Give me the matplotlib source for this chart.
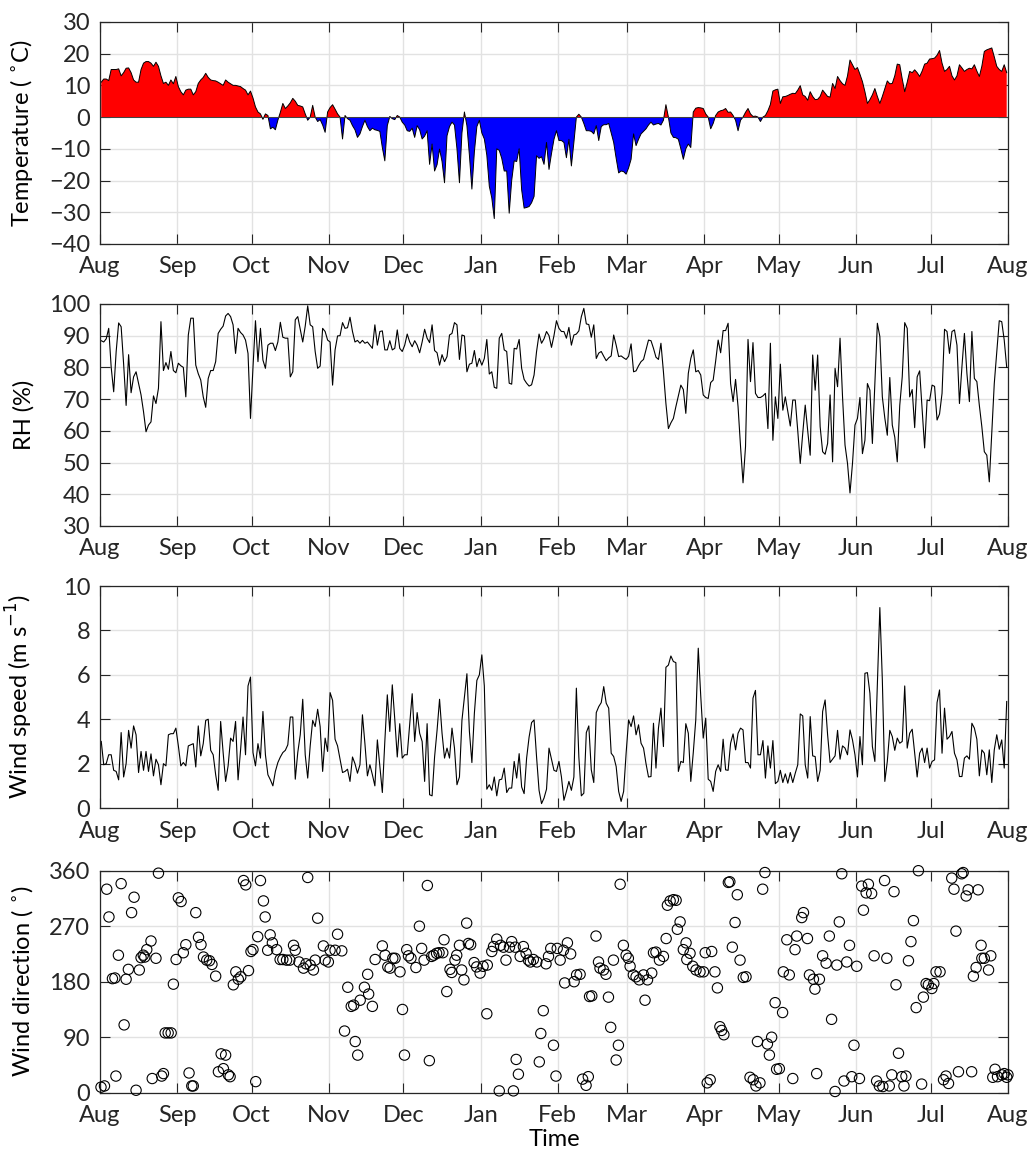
import numpy as np
import matplotlib
matplotlib.use("Agg")
import matplotlib.pyplot as plt

plt.rcParams['font.family'] = ['Lato', 'DejaVu Sans']
plt.rcParams['font.size'] = 17

# 月の区切り (8月1日からの日数)
month_ticks = [0, 31, 61, 92, 122, 153, 184, 212, 243, 273, 304, 334, 365]
month_labels = ['Aug', 'Sep', 'Oct', 'Nov', 'Dec', 'Jan', 'Feb', 'Mar', 'Apr', 'May', 'Jun', 'Jul', 'Aug']

# 日平均気温 (8月〜7月)
temp = (
    [11, 12, 12, 11.5, 15, 15, 15, 15.2, 13, 14, 15.4, 15.5, 14, 11.7, 11, 11, 15, 17, 17.5, 17.5, 17, 16, 17.3, 16, 13, 10.6, 11, 10, 11.7, 10.5, 12.8]
    + [9.6, 8, 7, 8.5, 8.8, 8.8, 7, 8, 10.6, 11.7, 12.5, 13.8, 12.5, 11.7, 11.5, 11.4, 11, 10.5, 10, 11.7, 11, 10.5, 10, 10, 9.8, 9.6, 9, 8.5, 7, 8.2]
    + [6, 3.2, 1.6, 1, -0.7, 1, 0.5, -3.7, -3.2, -4, -1, 1.5, 4.3, 2.7, 3.5, 4.5, 5.9, 5, 3.7, 3.5, 3.2, 1, -1, 0, 3.7, 0, -1.4, -0.8, -2.5, -4.8, 1.6]
    + [3, 3.9, 2.5, 1, 0, -6.9, 0.5, -0.5, -1, -2.7, -4, -6.4, -5.3, -3, -1, -3, -4.3, -3.5, -4, -4.2, -4.5, -9.6, -13.8, -2.7, 0.2, -0.5, -0.8, 0.5, 0, -1.6]
    + [-2.5, -4.3, -4.5, -3.5, -6.4, -2.7, -4, -6.9, -6, -4.3, -14.9, -8.5, -17, -15, -10.1, -14, -20.7, -5.9, -3, -1.6, -2.5, -10, -20.7, -5, 1.6, -2.7, -12, -22.7, -11, -3, -1]
    + [-5, -6.9, -12, -21.8, -25.5, -32, -10, -10.5, -13, -17, -17, -30.3, -20, -13.8, -14, -10, -22.9, -28.7, -28.5, -28.2, -27, -25, -12.2, -13, -12.5, -14.9, -8, -16.5, -11.5, -7, -4.3]
    + [-7.4, -7.4, -8, -12.8, -7, -15.4, -8, 0, 0.9, 0, -2, -4.3, -4.3, -4.5, -5.3, -2.7, -7.4, -3, -2.4, -2.4, -2, -5, -8, -13, -17.6, -17, -17.2, -18]
    + [-16, -13.3, -5.3, -9, -7, -5.3, -4.5, -3.7, -2.5, -1.6, -2.5, -2.2, -2, -2.5, -1, 3.9, 0, -5, -6.4, -6.5, -7, -10, -13.3, -10, -8.5, -9.6, 1.6, 2.8, 3, 2.9, 2.7]
    + [1, 0, -3.7, -2, 0.5, 1.6, 2, 2.2, 2.7, 1.5, 1.6, 0.5, -1, -4.3, -1, 0, 1.5, 2.7, 1, 0.2, 0.3, 0, -1.4, 0, 0.5, 2, 4, 8.2, 8.6, 8.8]
    + [4.3, 6.4, 6.5, 6.8, 7.2, 7.5, 7.4, 8.5, 9.9, 7, 6.5, 5.3, 8, 6.5, 5.5, 5.6, 6.5, 8.5, 7.5, 6.5, 6.3, 10.6, 9, 12.8, 11.5, 10.5, 10, 13, 18, 16.5, 15]
    + [15.6, 13.5, 11.2, 8, 4.3, 5.5, 7, 9, 6.5, 4.3, 6.5, 9, 11.4, 10.5, 10.6, 13, 16.7, 16.5, 12, 8, 11, 14.4, 14, 14.9, 14, 12.8, 14.5, 16.7, 17, 18.3]
    + [18.4, 18.6, 19.5, 21, 17, 14.4, 15, 16, 13, 11.7, 13, 16.5, 15.5, 14.4, 15, 15.4, 15.2, 16.5, 14.5, 12.8, 16, 20.7, 21.2, 21.5, 21.8, 19, 16, 15, 14.4, 16.5, 14]
)

# 相対湿度 (%)
rh = (
    [88.4, 88, 89, 92.3, 80, 72.3, 85, 94, 92.8, 81, 68, 84, 72, 77, 78.6, 75, 71.3, 66, 59.7, 61.8, 62.8, 71, 68.6, 73.4, 94.4, 79, 81.5, 79.4, 85, 79, 78.3]
    + [81.3, 80.5, 80, 70.7, 90.2, 95.5, 95.5, 80.7, 78, 76, 70.7, 67.4, 76.5, 79, 79, 81.8, 90.7, 92, 93, 96.2, 97, 96, 93.4, 84.4, 92.3, 91, 90.2, 88.6, 84.4, 63.9]
    + [80, 94.7, 81.8, 92.3, 82.3, 79.7, 87, 87.6, 87.6, 85.3, 88, 94.2, 89.5, 89.2, 89.2, 77, 78.6, 95, 96, 92, 88, 93, 99.4, 93.4, 92.8, 85, 79.7, 80.4, 92.3, 91.3, 88.6]
    + [88, 74.4, 85.5, 89.9, 90, 94.1, 92.3, 92.5, 95.8, 91.3, 88, 88.5, 87.6, 88.5, 87.6, 88, 87, 86, 93.4, 87, 91.3, 91.5, 85.5, 85.5, 88.4, 85.5, 86, 91.8, 86, 85]
    + [87, 90.5, 88, 86.5, 88.4, 87, 84.6, 88, 92, 89.2, 87.8, 93.4, 85.3, 84.6, 80.7, 84, 81.8, 83.4, 90.2, 90.7, 94.1, 93.4, 82.5, 90.2, 89.9, 78.6, 81, 81.3, 85.3, 80.2, 82.8]
    + [80.7, 82.8, 88.8, 77.9, 78.6, 73.7, 73.4, 89.2, 90.7, 85.5, 85, 75, 74.7, 86, 85.8, 88.8, 79.7, 76.2, 75, 74.1, 74.5, 77.6, 85, 90.5, 87.6, 89, 91.3, 90, 86.3, 90, 94.7]
    + [92.3, 91.3, 91.3, 89.2, 92.6, 87, 90.2, 90.5, 91.5, 96, 98.6, 93.7, 93.5, 89.5, 93.4, 82.8, 84.5, 85, 83.5, 82.1, 83, 83.6, 90.2, 87, 83.4, 83.6, 83, 82.5]
    + [83.5, 87.4, 78.6, 78.9, 80.5, 81.8, 82.5, 85.5, 88.6, 88.4, 86, 83.2, 82.5, 87.6, 78.6, 68.6, 60.7, 62.5, 63.9, 67.6, 71, 74.4, 73, 65.5, 78.1, 82.8, 85.5, 78.6, 79, 77.6, 71.3]
    + [70.5, 70.2, 75.2, 76, 82, 88.6, 84.6, 91.6, 91.6, 93.9, 74.9, 69.2, 76.2, 67.6, 55, 43.6, 55, 88.8, 75.5, 87.8, 71.8, 70.5, 70.5, 71, 71.8, 60.7, 87.6, 57, 70.7, 63.9]
    + [81, 66.5, 70.7, 66, 61.5, 69.7, 69.7, 60, 49.7, 59.2, 68.1, 60, 52.3, 83.9, 72.8, 83.9, 61.3, 53.4, 52.6, 56, 71.3, 50.2, 79.7, 73.9, 89.2, 70.7, 55.5, 49.7, 40.4, 49.7, 61.8]
    + [63.9, 70.5, 52.8, 57, 74.9, 72.8, 56, 75, 93.9, 89.7, 70.7, 64, 58.6, 76.8, 61.8, 58, 50.2, 68, 77, 94.1, 92.3, 70.7, 73, 61, 77, 78.9, 66.5, 54.6, 69.7, 69.5]
    + [74.4, 74, 63.4, 65.3, 71.8, 92, 91.3, 84.4, 91.3, 91.8, 87, 68.6, 80.2, 90.7, 78.1, 69.2, 91.3, 76.5, 75.5, 68, 61.3, 53.4, 52.3, 43.9, 59.7, 74.9, 85, 94.7, 94.4, 88.6, 80]
)

# 風速 (m/s)
ws = (
    [3.0, 1.95, 2.0, 2.4, 2.4, 1.7, 1.65, 1.27, 3.4, 1.4, 2.0, 3.5, 2.7, 3.7, 3.3, 1.6, 2.55, 1.7, 2.55, 1.65, 2.44, 1.45, 2.2, 1.95, 1.05, 2.0, 1.9, 3.3, 3.35, 3.35, 3.6]
    + [2.8, 1.9, 2.05, 1.9, 2.8, 2.85, 2.9, 1.85, 3.7, 2.35, 2.9, 3.95, 4.0, 2.6, 2.4, 1.5, 0.8, 3.9, 2.5, 1.2, 1.9, 3.15, 3.0, 3.9, 1.27, 2.6, 4.1, 2.4, 5.5, 5.9]
    + [2.5, 1.9, 2.9, 2.25, 4.35, 2.4, 1.5, 1.27, 1.0, 1.65, 2.05, 2.3, 2.5, 2.6, 2.85, 4.1, 4.1, 1.3, 2.5, 3.3, 4.9, 2.4, 1.35, 2.8, 3.95, 3.67, 4.45, 3.67, 1.65, 3.15, 2.55]
    + [5.2, 4.85, 3.1, 2.8, 2.2, 1.6, 1.65, 1.75, 1.2, 2.3, 2.0, 1.57, 1.95, 4.2, 2.9, 1.45, 1.95, 1.5, 1.0, 3.07, 1.9, 0.7, 3.0, 5.1, 3.45, 5.55, 4.0, 2.3, 3.8, 2.25]
    + [2.4, 2.4, 3.8, 5.15, 3.0, 4.3, 3.37, 3.0, 1.2, 3.8, 0.6, 0.55, 2.3, 3.5, 4.9, 3.37, 2.25, 2.7, 2.25, 3.6, 2.7, 1.05, 1.4, 3.95, 5.0, 6.05, 3.45, 2.05, 4.27, 5.75, 6.0]
    + [6.9, 5.5, 0.85, 1.05, 0.8, 1.4, 0.55, 1.27, 1.3, 1.8, 0.7, 0.9, 0.9, 2.1, 1.35, 2.45, 0.95, 0.65, 2.25, 3.2, 3.85, 3.97, 2.3, 0.8, 0.2, 0.45, 0.85, 2.7, 2.2, 1.7, 1.65]
    + [2.1, 1.4, 0.35, 0.75, 1.2, 0.8, 1.4, 5.4, 2.3, 0.55, 0.67, 3.4, 3.7, 1.72, 1.15, 4.3, 4.57, 4.75, 5.47, 4.72, 4.5, 2.47, 2.32, 1.87, 0.75, 0.3, 0.75, 2.47]
    + [3.97, 3.67, 4.15, 3.3, 3.75, 2.92, 2.7, 2.0, 1.4, 1.42, 3.82, 1.8, 3.6, 4.5, 2.77, 6.34, 6.44, 6.85, 6.6, 6.55, 1.65, 2.1, 2.05, 3.8, 3.37, 1.2, 2.5, 3.97, 7.2, 5.05, 3.15]
    + [4.05, 1.3, 1.2, 0.75, 1.65, 1.95, 1.65, 3.1, 1.72, 1.7, 2.92, 3.34, 2.62, 3.37, 3.6, 3.52, 2.05, 2.05, 1.8, 4.95, 5.3, 2.4, 2.4, 3.04, 1.35, 2.8, 1.8, 3.04, 1.1, 1.2]
    + [1.7, 1.15, 1.54, 1.12, 1.6, 1.15, 1.57, 1.95, 4.24, 4.15, 1.95, 1.35, 4.12, 2.35, 2.32, 1.2, 1.7, 4.35, 4.87, 3.3, 2.05, 2.2, 2.35, 3.5, 2.2, 2.8, 2.7, 2.4, 3.52, 3.07, 2.4]
    + [1.4, 3.22, 1.95, 6.07, 6.1, 5.17, 2.77, 2.1, 5.6, 9.03, 5.77, 1.2, 2.1, 3.5, 3.22, 2.6, 3.15, 2.92, 3.0, 5.5, 2.7, 3.37, 3.55, 2.47, 1.4, 2.47, 2.7, 2.05, 2.7, 1.8]
    + [2.1, 2.17, 4.75, 5.32, 2.47, 4.5, 3.1, 3.22, 3.45, 2.47, 2.17, 1.42, 1.42, 2.25, 2.35, 2.2, 3.82, 3.6, 3.1, 1.45, 2.62, 2.47, 1.5, 2.62, 1.15, 2.62, 3.3, 2.65, 3.07, 1.8, 4.8]
)

# 風向 (日, 度)
wd_day = [0.4, 1.8, 2.7, 3.6, 5, 6, 6.4, 7.4, 8.5, 9.7, 10.5, 11.4, 12.7, 13.7, 14.5, 15.8, 16.5, 17.4, 18, 18.8,
          20.5, 21, 22.5, 23.5, 24.8, 25.5, 26.2, 27.4, 28.6, 29.5, 30.6, 31.5, 32.6, 33.5, 34.5, 35.8, 36.9, 37.5, 38.5, 39.6,
          40.6, 41.6, 42.9, 44, 45, 46.5, 47.6, 48.7, 49.6, 50.5, 51.6, 52.3, 53.6, 54.6, 55.6, 56.6, 57.7, 58.6, 59.7, 60.7,
          61.5, 62.6, 63.4, 64.5, 65.7, 66.4, 67.4, 68.4, 69.3, 71, 72.4, 73.5, 75, 76.3, 77.8, 78.5, 80, 81.8, 82.8, 83.5,
          84.5, 85.8, 86.5, 87.5, 89.8, 90.5, 91.8, 92.5, 94.5, 95.5, 97.2, 98.3, 99.6, 101, 102, 102.6, 103.6, 104.6, 106.3, 107.6,
          108, 109.5, 110.6, 113.5, 114.6, 115.7, 116.6, 117.7, 118.6, 120.6, 121.6, 122.4, 123.3, 124, 125, 127, 128.4, 129.3, 130.3, 131.6,
          132.4, 133.3, 134.2, 135.3, 136.3, 137.8, 138.3, 139.4, 140.7, 141.4, 142.7, 143.4, 144.5, 145.4, 146.3, 147.4, 148.1, 149, 150.4, 151.4,
          152.8, 154, 155.5, 155.7, 157.5, 158.2, 159.5, 160.5, 161, 162.2, 163.2, 164.6, 165.5, 166.2, 166.9, 167.3, 168.2, 168.9, 170.2, 171.3,
          172.2, 173, 174.2, 175.6, 176.6, 177.2, 178.2, 179.3, 180.3, 181.2, 182.3, 183.3, 183.8, 185, 186.3, 186.8, 187.9, 189.2, 190.6, 191.6,
          193, 194, 195.4, 196.3, 196.8, 197.7, 199.4, 200.4, 201, 202.4, 203.4, 204.4, 205.3, 206.4, 207.5, 208.4, 209.1, 210.4, 211.5, 212.4,
          213.1, 214.4, 215.5, 216.8, 218.5, 219.1, 220.1, 221.8, 222.5, 223.5, 224.9, 226.5, 227.6, 228.1, 229.2, 230.5, 231.6, 232.1, 233.2, 234.5,
          235.6, 235.9, 237.2, 238.3, 239.6, 241.2, 242.6, 243.3, 244.1, 245.3, 245.9, 247.2, 248.2, 249.2, 249.9, 250.8, 252.6, 253.2, 254.2, 255.3,
          256.2, 257.3, 258.6, 259.7, 261.3, 262.6, 263.7, 264.3, 265.3, 266.4, 267.3, 268.3, 269.1, 270, 271.4, 272, 273.1, 274.4, 274.7, 276.1,
          277.1, 278.5, 279.4, 280.1, 282.1, 282.8, 284.4, 285.2, 286.8, 287.4, 288.1, 289.2, 290.5, 291.9, 293.2, 294.1, 295.5, 296.2, 297.2, 298.2,
          299.1, 300.2, 301.3, 302.2, 303.1, 304.2, 305.3, 306.2, 306.9, 308, 308.9, 310.2, 311.2, 312.2, 313.3, 314.7, 315.4, 316.3, 317.3, 318.3,
          319.2, 320, 321, 322.3, 323.2, 324, 325, 326, 327, 328.1, 329, 330.3, 331, 332.1, 333, 334.4, 335.2, 336.1, 337.7, 339.1,
          340.1, 341.1, 342.4, 343.3, 344.1, 345.1, 346.4, 347, 348.2, 349, 350.4, 351.1, 352.2, 353, 354.2, 354.5, 355.5, 357.2, 358.1, 358.9,
          359.8, 360.8, 362.5, 363.5, 364.5, 365]
wd_deg = [9, 11, 330, 285, 185, 186, 27, 223, 339, 110, 184, 200, 292, 317, 4, 199, 219, 223, 220, 232,
          246, 23, 218, 356, 27, 31, 97, 97, 97, 176, 216, 316, 310, 227, 240, 32, 11, 11, 292, 252,
          240, 220, 215, 214, 208, 189, 34, 63, 39, 61, 29, 26, 175, 196, 184, 188, 344, 337, 198, 229,
          232, 18, 253, 344, 311, 285, 231, 256, 243, 232, 216, 216, 215, 215, 239, 231, 212, 202, 209, 349,
          207, 199, 215, 283, 238, 215, 212, 231, 231, 257, 230, 100, 171, 140, 142, 83, 61, 150, 171, 192,
          160, 140, 216, 238, 223, 204, 202, 218, 218, 196, 135, 61, 232, 222, 218, 203, 270, 234, 215, 336,
          52, 221, 223, 226, 227, 227, 248, 164, 200, 195, 215, 223, 239, 199, 183, 275, 242, 240, 211, 204,
          194, 205, 128, 207, 229, 237, 249, 3, 239, 236, 215, 236, 245, 3, 236, 54, 30, 221, 237, 226,
          215, 212, 216, 212, 50, 96, 133, 209, 221, 234, 77, 27, 234, 215, 231, 178, 243, 225, 180, 191,
          192, 22, 12, 26, 156, 157, 254, 212, 202, 199, 192, 155, 106, 215, 53, 77, 338, 239, 223, 218,
          205, 191, 188, 183, 191, 150, 183, 194, 227, 228, 215, 221, 250, 304, 311, 313, 312, 265, 277, 232,
          243, 216, 226, 205, 199, 196, 196, 227, 16, 21, 229, 196, 170, 107, 101, 94, 341, 342, 236, 276,
          321, 215, 187, 188, 25, 21, 11, 83, 16, 330, 357, 79, 61, 90, 146, 38, 39, 130, 196, 248,
          191, 23, 232, 254, 284, 292, 250, 191, 184, 168, 31, 184, 222, 210, 254, 119, 2, 207, 277, 355,
          19, 212, 239, 26, 77, 205, 23, 335, 296, 324, 338, 323, 222, 19, 11, 10, 344, 218, 11, 29,
          326, 175, 64, 26, 11, 27, 214, 245, 279, 138, 360, 14, 155, 177, 175, 169, 177, 196, 196, 21,
          27, 15, 348, 330, 262, 34, 355, 357, 319, 329, 34, 189, 203, 329, 239, 218, 218, 199, 222, 25,
          38, 26, 29, 31, 25, 29]

days = np.arange(len(temp)) + 0.5
temp = np.array(temp)

fig = plt.figure(figsize=(10.32, 11.6), dpi=100)
left, width, height = 0.0969, 0.8798, 0.1914
bottoms = [0.7897, 0.5466, 0.3034, 0.058]
axes = [fig.add_axes([left, b, width, height]) for b in bottoms]

# 気温: 正は赤, 負は青
ax = axes[0]
ax.fill_between(days, temp, 0, where=temp >= 0, interpolate=True, color='#ff0000', lw=0)
ax.fill_between(days, temp, 0, where=temp <= 0, interpolate=True, color='#0000ff', lw=0)
ax.plot(days, temp, color='k', lw=0.7)
ax.axhline(0, color='#404040', lw=0.7)
ax.set_ylim(-40, 30)
ax.set_yticks(range(-40, 31, 10))
ax.set_ylabel(r'Temperature ( $^{\circ}$C)')

ax = axes[1]
ax.plot(days, rh, color='k', lw=0.8)
ax.set_ylim(30, 100)
ax.set_yticks(range(30, 101, 10))
ax.set_ylabel('RH (%)')

ax = axes[2]
ax.plot(days, ws, color='k', lw=0.8)
ax.set_ylim(0, 10)
ax.set_yticks(range(0, 11, 2))
ax.set_ylabel(r'Wind speed (m s$^{-1}$)')

ax = axes[3]
ax.scatter(wd_day, wd_deg, s=55, facecolors='none', edgecolors='k', linewidths=0.8, clip_on=False, zorder=3)
ax.set_ylim(0, 360)
ax.set_yticks(range(0, 361, 90))
ax.set_ylabel(r'Wind direction ( $^{\circ}$)')
ax.set_xlabel('Time', labelpad=2)

for ax in axes:
    ax.set_xlim(0, 365)
    ax.set_xticks(month_ticks)
    ax.set_xticklabels(month_labels)
    ax.grid(True, color='#e2e2e2', lw=1.0)
    ax.set_axisbelow(True)
    ax.tick_params(direction='in', top=True, right=True, length=7, width=0.8, colors='#262626')
    ax.tick_params(axis='x', pad=9)
    ax.tick_params(axis='y', pad=7)
    for sp in ax.spines.values():
        sp.set_color('#262626')
        sp.set_linewidth(0.9)
    ax.yaxis.set_label_coords(-0.072, 0.5)

fig.savefig('out.png', dpi=100)
